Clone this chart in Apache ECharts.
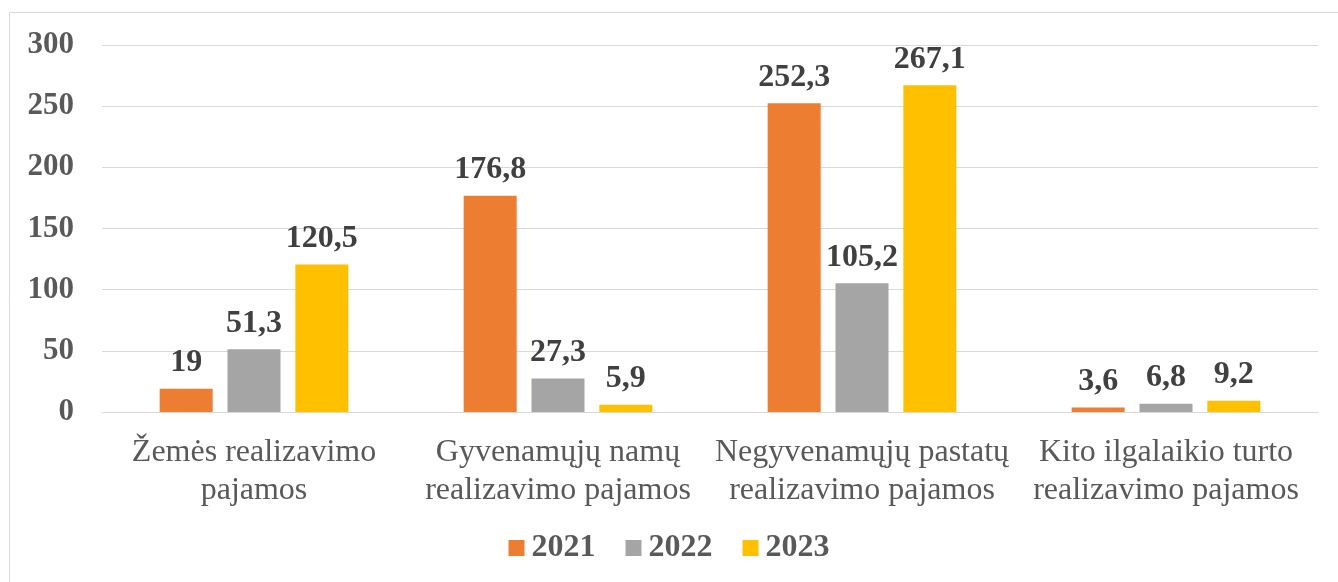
<!DOCTYPE html>
<html>
<head>
<meta charset="utf-8">
<script src="https://cdn.jsdelivr.net/npm/echarts@6/dist/echarts.min.js"></script>
<style>
html,body{margin:0;padding:0;background:#fff;}
#chart{width:1338px;height:582px;}
</style>
</head>
<body>
<div id="chart"></div>
<script>
const categories = ['Žemės realizavimo\npajamos', 'Gyvenamųjų namų\nrealizavimo pajamos', 'Negyvenamųjų pastatų\nrealizavimo pajamos', 'Kito ilgalaikio turto\nrealizavimo pajamos'];
const seriesNames = ['2021', '2022', '2023'];
const values2021 = [19, 176.8, 252.3, 3.6];
const values2022 = [51.3, 27.3, 105.2, 6.8];
const values2023 = [120.5, 5.9, 267.1, 9.2];
const colors = ['#ED7D31', '#A5A5A5', '#FFC000'];
const yTicks = { min: 0, max: 300, interval: 50 };

const FONT = "'Liberation Serif', 'Times New Roman', serif";
const chart = echarts.init(document.getElementById('chart'));
const allValues = [values2021, values2022, values2023];
chart.setOption({
  backgroundColor: '#fff',
  animation: false,
  graphic: [{
    type: 'rect', shape: { x: 9.5, y: 12.5, width: 1340, height: 580 },
    style: { fill: 'none', stroke: '#d9d9d9', lineWidth: 1 }, silent: true, z: -1
  }],
  grid: { left: 102, right: 20, top: 45, bottom: 170, containLabel: false },
  legend: {
    bottom: 13, left: 'center', itemWidth: 16, itemHeight: 16, itemGap: 30,
    icon: 'rect',
    textStyle: { fontFamily: FONT, fontSize: 32, fontWeight: 'bold', color: '#595959', padding: [0, 0, 0, 2] },
    data: seriesNames
  },
  xAxis: {
    type: 'category', data: categories,
    axisLine: { lineStyle: { color: '#d9d9d9', width: 1 } },
    axisTick: { show: false },
    axisLabel: { fontFamily: FONT, fontSize: 32, color: '#595959', lineHeight: 38, margin: 22, interval: 0 }
  },
  yAxis: {
    type: 'value', min: yTicks.min, max: yTicks.max, interval: yTicks.interval,
    axisLine: { show: false }, axisTick: { show: false },
    splitLine: { lineStyle: { color: '#d9d9d9', width: 1 } },
    axisLabel: { fontFamily: FONT, fontSize: 31, fontWeight: 'bold', color: '#595959', margin: 28 }
  },
  series: seriesNames.map((name, i) => ({
    name, type: 'bar', data: allValues[i], barWidth: 53, barGap: '28%',
    itemStyle: { color: colors[i] },
    label: {
      show: true, position: 'top', distance: 10,
      fontFamily: FONT, fontSize: 32, fontWeight: 'bold', color: '#404040',
      formatter: p => String(p.value).replace('.', ',')
    }
  }))
});
</script>
</body>
</html>
